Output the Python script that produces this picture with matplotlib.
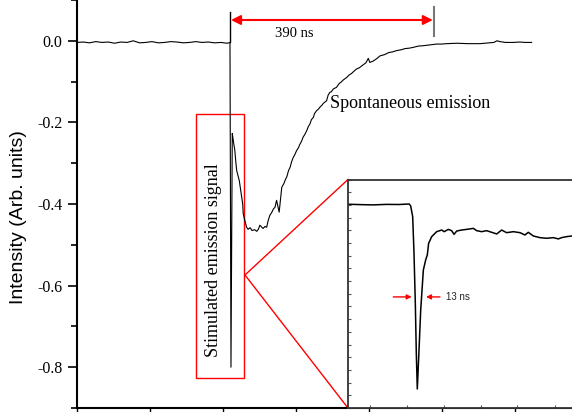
import matplotlib
matplotlib.use('Agg')
import matplotlib.pyplot as plt
from matplotlib.patches import Rectangle
from matplotlib.ticker import MultipleLocator, FormatStrFormatter

plt.rcParams['axes.unicode_minus'] = False
SERIF = 'Liberation Serif'
SANS = 'Liberation Sans'

# main trace: time (ns) and intensity (arb. units)
base_t = [0, 12, 24, 36, 48, 60, 72, 84, 96, 108, 120, 132, 144, 156, 168,
          180, 192, 204, 216, 228, 240, 252, 264, 276, 288, 293.6]
base_v = [-0.004, -0.003, -0.005, -0.002, -0.004, -0.003, -0.006, -0.003,
          -0.004, 0.000, -0.005, -0.004, -0.002, -0.005, -0.004, -0.002,
          -0.003, -0.005, -0.004, -0.002, -0.004, -0.003, -0.005, -0.004,
          -0.006, -0.004]
pulse_t = [295.5, 298]
pulse_v = [-0.800, -0.227]
decay_t = [300, 303, 305, 306.5, 309, 311.5, 314, 316, 318, 319, 322, 325.5,
           328.5, 332, 336, 341, 345, 348, 351, 354, 357, 361, 364, 367, 370,
           374, 377, 380, 383, 385.5, 388, 390, 393, 397, 400, 402.5, 406,
           409, 412, 415, 418, 421.5, 425, 428, 431, 434, 437, 441, 444, 447,
           450, 453.5, 456, 460, 463, 466, 470, 473, 476, 479, 482, 485.5,
           488, 492, 495, 498, 503, 507, 511, 517.5, 522, 527, 532, 536.5,
           542, 548, 554.5, 559, 562, 568, 575, 581.5, 590, 598, 606, 613.5,
           622, 630, 638, 645.5, 655, 665, 677.5, 690, 700, 709.5, 730, 750,
           773.5, 790, 800, 806, 812, 822, 837, 850, 860, 872.5]
decay_v = [-0.245, -0.270, -0.300, -0.318, -0.330, -0.343, -0.365, -0.383,
           -0.400, -0.424, -0.440, -0.457, -0.462, -0.458, -0.465, -0.463,
           -0.467, -0.462, -0.452, -0.456, -0.460, -0.455, -0.457, -0.440,
           -0.428, -0.420, -0.412, -0.408, -0.391, -0.405, -0.420, -0.395,
           -0.359, -0.350, -0.340, -0.334, -0.318, -0.310, -0.296, -0.286,
           -0.279, -0.269, -0.262, -0.253, -0.246, -0.236, -0.230, -0.220,
           -0.210, -0.204, -0.193, -0.188, -0.178, -0.171, -0.168, -0.163,
           -0.158, -0.153, -0.150, -0.147, -0.133, -0.126, -0.125, -0.118,
           -0.116, -0.114, -0.105, -0.101, -0.096, -0.090, -0.084, -0.080,
           -0.074, -0.069, -0.066, -0.060, -0.054, -0.043, -0.053, -0.050,
           -0.044, -0.037, -0.034, -0.029, -0.027, -0.024, -0.022, -0.019,
           -0.018, -0.016, -0.013, -0.012, -0.010, -0.008, -0.008, -0.007,
           -0.006, -0.007, -0.007, -0.005, -0.004, 0.000, -0.002, -0.004,
           -0.004, -0.003, -0.004, -0.004]

# inset trace: time (ns) and signal (arb.)
ins_t = [0.3, 12, 23, 35, 46, 55.7, 57, 58.8, 60, 61.2, 62.1, 63, 64.3, 66.1,
         68.5, 70.6, 72.1, 73.3, 76.1, 80.6, 85.2, 87.5, 89.1, 91.2, 94.2,
         96.4, 98.8, 103.3, 107.9, 114, 117, 121.5, 126, 130.6, 135.2, 139.7,
         144.2, 150.3, 156.4, 160.9, 163.9, 168.5, 174.5, 180.6, 186.7, 191.2,
         194.2, 198.8, 203.6]
ins_v = [0.05, 0.02, 0.0, 0.04, 0.03, 0.07, -0.09, -0.93, -3.8, -7.75,
         -11.7, -14.5, -11.95, -8.28, -5.13, -4.34, -3.94, -3.03, -2.5,
         -2.11, -1.98, -2.11, -2.03, -1.93, -2.03, -2.32, -2.06, -1.98, -1.93,
         -1.85, -2.03, -2.11, -2.03, -2.16, -2.29, -1.98, -2.19, -2.11, -2.19,
         -2.37, -2.16, -2.45, -2.58, -2.63, -2.58, -2.68, -2.58, -2.50, -2.45]

y_ticks = [0.0, -0.2, -0.4, -0.6, -0.8]

fig = plt.figure(figsize=(5.72, 4.12), dpi=100)
ax = fig.add_axes([77 / 572, 4 / 412, 495 / 572, 408 / 412])
ax.plot(base_t + pulse_t + decay_t, base_v + pulse_v + decay_v,
        color='black', lw=0.8)
ax.set_xlim(0, 950)
ax.set_ylim(-0.9, 0.1)
ax.spines['top'].set_visible(False)
ax.spines['right'].set_visible(False)
ax.spines['left'].set_linewidth(1.5)
ax.spines['bottom'].set_linewidth(1.5)
ax.set_yticks(y_ticks)
ax.yaxis.set_major_formatter(FormatStrFormatter('%.1f'))
ax.yaxis.set_minor_locator(MultipleLocator(0.1))
ax.xaxis.set_major_locator(MultipleLocator(140))
ax.set_xticklabels([])
ax.tick_params(axis='y', which='major', direction='out', length=6.5,
               width=1.2, labelsize=11.5, pad=4)
ax.tick_params(axis='y', which='minor', direction='out', length=4, width=1.2)
ax.tick_params(axis='x', which='major', direction='out', length=3, width=1)
for lab in ax.get_yticklabels():
    lab.set_family(SERIF)
ax.set_ylabel('Intensity (Arb. units)', family=SANS, fontsize=14)
ax.yaxis.set_label_coords(-0.101, 0.468)

# 390 ns marker
ax.plot([293.6, 293.6], [0.071, -0.004], color='black', lw=1)
ax.plot([686, 686], [0.083, 0.012], color='#777777', lw=1.5)
ax.annotate('', xy=(295.5, 0.051), xytext=(683, 0.051),
            arrowprops=dict(arrowstyle='<|-|>', color='red', lw=1.5,
                            mutation_scale=14, shrinkA=0, shrinkB=0))
ax.text(380, 0.010, '390 ns', family=SERIF, fontsize=10.5, va='baseline')
ax.text(485.5, -0.165, 'Spontaneous emission', family=SERIF, fontsize=13,
        va='baseline')

# stimulated emission box and zoom lines
ax.add_patch(Rectangle((228.4, -0.826), 92.6, 0.646, fill=False,
                       edgecolor='red', lw=1))
ax.text(262.9, -0.537, 'Stimulated emission signal', family=SERIF,
        fontsize=13, rotation=90, ha='center', va='center')
ax.plot([322.4, 520], [-0.574, -0.340], color='red', lw=1, clip_on=False)
ax.plot([322.4, 520], [-0.574, -0.900], color='red', lw=1, clip_on=False)

# inset
axi = fig.add_axes([348 / 572, 4 / 412, 242 / 572, 228.5 / 412])
axi.plot(ins_t, ins_v, color='black', lw=1.1)
axi.set_xlim(0, 220)
axi.set_ylim(-16, 2)
axi.spines['right'].set_visible(False)
for s in ['top', 'left', 'bottom']:
    axi.spines[s].set_color('#333333')
    axi.spines[s].set_linewidth(1.3)
axi.yaxis.set_major_locator(MultipleLocator(1))
axi.set_xticks([20, 54, 87, 121, 154, 188])
axi.tick_params(direction='in', length=2, width=0.8, color='#555555',
                labelleft=False, labelbottom=False)
axi.annotate('', xy=(57.9, -7.25), xytext=(41.2, -7.25),
             arrowprops=dict(arrowstyle='-|>', color='red', lw=1,
                             mutation_scale=7, shrinkA=0, shrinkB=0))
axi.annotate('', xy=(70.9, -7.25), xytext=(83.6, -7.25),
             arrowprops=dict(arrowstyle='-|>', color='red', lw=1,
                             mutation_scale=7, shrinkA=0, shrinkB=0))
axi.text(89.1, -7.25, '13 ns', family=SANS, fontsize=7, va='center',
         color='#222222')

fig.savefig('out.png', dpi=100)
